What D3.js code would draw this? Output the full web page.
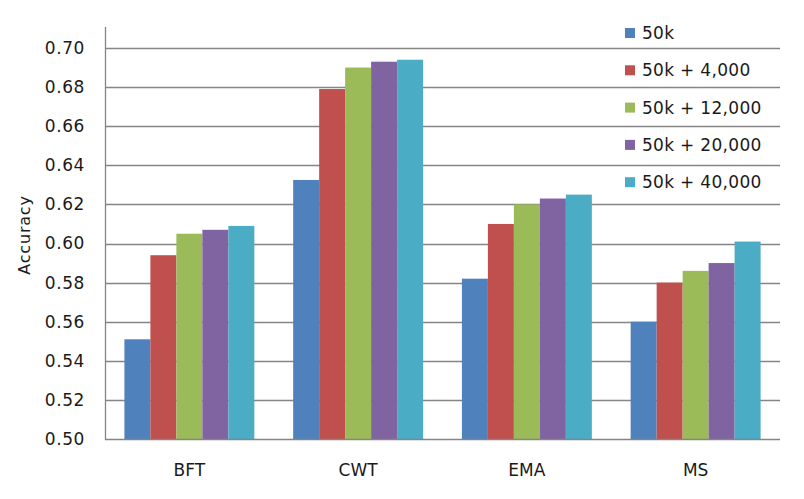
<!DOCTYPE html>
<html>
<head>
<meta charset="utf-8">
<script src="https://cdn.jsdelivr.net/npm/d3@7"></script>
<style>
  html, body { margin: 0; padding: 0; background: #fff; }
  svg { display: block; }
  text { font-family: "DejaVu Sans", Verdana, sans-serif; fill: #1a1a1a; }
</style>
</head>
<body>
<svg id="chart" width="804" height="499"></svg>
<script>
const categories = ["BFT", "CWT", "EMA", "MS"];
const seriesNames = ["50k", "50k + 4,000", "50k + 12,000", "50k + 20,000", "50k + 40,000"];
const colors = ["#4F81BD", "#C0504D", "#9BBB59", "#8064A2", "#4BACC6"];
const s50k    = [0.551, 0.6325, 0.582, 0.560];
const s4000   = [0.594, 0.679, 0.610, 0.580];
const s12000  = [0.605, 0.690, 0.620, 0.586];
const s20000  = [0.607, 0.693, 0.623, 0.590];
const s40000  = [0.609, 0.694, 0.625, 0.601];
const seriesValues = [s50k, s4000, s12000, s20000, s40000];
const yTicks = [0.50, 0.52, 0.54, 0.56, 0.58, 0.60, 0.62, 0.64, 0.66, 0.68, 0.70];

(function () {
const svg = d3.select("#chart");
const mLeft = 105, mRight = 780, mTop = 48, mBottom = 439;

const x0 = d3.scaleBand().domain(categories).range([mLeft, mRight])
  .paddingInner(0.23).paddingOuter(0.115);
const x1 = d3.scaleBand().domain(seriesNames).range([0, x0.bandwidth()]).padding(0);
const y = d3.scaleLinear().domain([0.5, 0.7]).range([mBottom, mTop]);

// gridlines
svg.append("g").selectAll("line").data(yTicks.slice(1)).join("line")
  .attr("x1", mLeft).attr("x2", mRight)
  .attr("y1", d => Math.round(y(d)) + 0.5).attr("y2", d => Math.round(y(d)) + 0.5)
  .attr("stroke", "#858585").attr("stroke-width", 1.3);

// bars
const groups = svg.append("g").selectAll("g").data(categories).join("g")
  .attr("transform", d => `translate(${x0(d)},0)`);
groups.selectAll("rect")
  .data((c, ci) => seriesNames.map((s, si) => ({ s, si, v: seriesValues[si][ci] })))
  .join("rect")
  .attr("x", d => x1(d.s))
  .attr("width", x1.bandwidth())
  .attr("y", d => y(d.v))
  .attr("height", d => y(0.5) - y(d.v))
  .attr("fill", d => colors[d.si]);

// y axis
const yAxis = d3.axisLeft(y).tickValues(yTicks).tickFormat(d3.format(".2f")).tickSize(0).tickPadding(20);
const ya = svg.append("g").attr("transform", `translate(${mLeft},0)`).call(yAxis);
ya.select(".domain").remove();
ya.selectAll("text").attr("font-size", 17).attr("letter-spacing", 0.6)
  .attr("font-family", "DejaVu Sans, sans-serif").attr("fill", "#1a1a1a");
svg.append("line").attr("x1", mLeft + 0.5).attr("x2", mLeft + 0.5)
  .attr("y1", 27).attr("y2", mBottom + 1).attr("stroke", "#858585").attr("stroke-width", 1.3);

// x axis
const xAxis = d3.axisBottom(x0).tickSize(0).tickPadding(25);
const xa = svg.append("g").attr("transform", `translate(0,${mBottom})`).call(xAxis);
xa.select(".domain").remove();
xa.selectAll("text").attr("font-size", 17).attr("font-family", "DejaVu Sans, sans-serif").attr("fill", "#1a1a1a");
svg.append("line").attr("x1", mLeft).attr("x2", mRight)
  .attr("y1", mBottom + 0.5).attr("y2", mBottom + 0.5).attr("stroke", "#858585").attr("stroke-width", 1.3);

// y label
svg.append("text").attr("transform", `translate(30,235) rotate(-90)`)
  .attr("text-anchor", "middle").attr("font-size", 16).attr("letter-spacing", 0.8)
  .text("Accuracy");

// legend
const leg = svg.append("g").selectAll("g").data(seriesNames).join("g")
  .attr("transform", (d, i) => `translate(625,${33 + i * 37.3})`);
leg.append("rect").attr("x", 0).attr("y", -5).attr("width", 10).attr("height", 10)
  .attr("fill", (d, i) => colors[i]);
leg.append("text").attr("x", 17).attr("y", 0).attr("dy", "0.36em")
  .attr("font-size", 17).attr("letter-spacing", 0.3).text(d => d);
})();
</script>
</body>
</html>
